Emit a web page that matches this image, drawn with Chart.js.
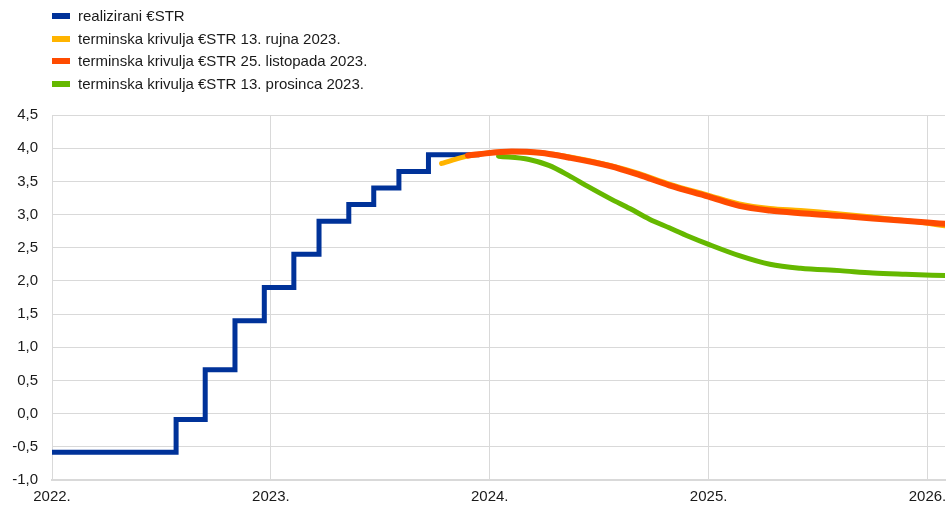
<!DOCTYPE html>
<html>
<head>
<meta charset="utf-8">
<script src="https://cdn.jsdelivr.net/npm/chart.js@4"></script>
<style>
  body { margin: 0; background: #fff; }
  #wrap { position: relative; width: 948px; height: 506px; }
  #legend { position: absolute; left: 52px; top: 5px; font: 15px "Liberation Sans", Arial, sans-serif; color: #1a1a1a; }
  #legend div { height: 22.7px; line-height: 22.7px; white-space: nowrap; }
  #legend span { display: inline-block; width: 18px; height: 6px; margin-right: 8px; vertical-align: middle; position: relative; top: -1px; }
</style>
</head>
<body>
<div id="wrap">
  <canvas id="chart" width="948" height="506"></canvas>
  <div id="legend"></div>
</div>
<script>
// x values are decimal years
const years = [2022, 2023, 2024, 2025, 2026];

const realizedX = [2022.0, 2022.567, 2022.70, 2022.836, 2022.97, 2023.105, 2023.22, 2023.356, 2023.47, 2023.585, 2023.72, 2023.95];
const realizedY = [-0.58, -0.09, 0.66, 1.40, 1.90, 2.40, 2.90, 3.15, 3.40, 3.65, 3.90, 3.90];

const sepX = [2023.78, 2023.83, 2023.90, 2024.0, 2024.12, 2024.23, 2024.36, 2024.55, 2024.68, 2024.82, 2025.0, 2025.14, 2025.28, 2025.42, 2025.6, 2025.75, 2026.0, 2026.08];
const sepY = [3.77, 3.82, 3.88, 3.93, 3.95, 3.93, 3.87, 3.74, 3.62, 3.46, 3.29, 3.16, 3.09, 3.06, 3.01, 2.96, 2.87, 2.83];

const octX = [2023.90, 2023.95, 2024.10, 2024.23, 2024.36, 2024.55, 2024.68, 2024.82, 2025.0, 2025.14, 2025.28, 2025.42, 2025.6, 2025.75, 2026.0, 2026.08];
const octY = [3.89, 3.91, 3.95, 3.93, 3.86, 3.73, 3.60, 3.44, 3.27, 3.13, 3.06, 3.02, 2.98, 2.94, 2.88, 2.86];

const decX = [2024.04, 2024.18, 2024.27, 2024.36, 2024.45, 2024.55, 2024.64, 2024.73, 2024.82, 2024.91, 2025.0, 2025.14, 2025.28, 2025.42, 2025.6, 2025.75, 2025.9, 2026.08];
const decY = [3.88, 3.83, 3.74, 3.59, 3.42, 3.24, 3.09, 2.93, 2.80, 2.67, 2.55, 2.38, 2.25, 2.19, 2.155, 2.12, 2.10, 2.08];

const labels = ["realizirani €STR", "terminska krivulja €STR 13. rujna 2023.", "terminska krivulja €STR 25. listopada 2023.", "terminska krivulja €STR 13. prosinca 2023."];
const colors = ["#003299", "#ffb400", "#ff4b00", "#65b800"];

const pts = (xs, ys) => xs.map((x, i) => ({ x: x, y: ys[i] }));

const legend = document.getElementById("legend");
labels.forEach((l, i) => {
  const d = document.createElement("div");
  d.innerHTML = '<span style="background:' + colors[i] + '"></span>' + l;
  legend.appendChild(d);
});

const fontSpec = { family: "'Liberation Sans', Arial, sans-serif", size: 15 };

new Chart(document.getElementById("chart"), {
  type: "line",
  data: {
    datasets: [
      { label: labels[0], data: pts(realizedX, realizedY), borderColor: colors[0], borderWidth: 5, stepped: true, order: 3 },
      { label: labels[1], data: pts(sepX, sepY), borderColor: colors[1], borderWidth: 5, cubicInterpolationMode: "monotone", order: 2 },
      { label: labels[2], data: pts(octX, octY), borderColor: colors[2], borderWidth: 6, cubicInterpolationMode: "monotone", order: 0 },
      { label: labels[3], data: pts(decX, decY), borderColor: colors[3], borderWidth: 5, cubicInterpolationMode: "monotone", order: 1 }
    ]
  },
  options: {
    responsive: false,
    animation: false,
    devicePixelRatio: 1,
    layout: { padding: { top: 115, right: 3, left: 0, bottom: 0 } },
    elements: {
      point: { radius: 0 },
      line: { borderCapStyle: "round", fill: false }
    },
    plugins: { legend: { display: false }, tooltip: { enabled: false } },
    scales: {
      x: {
        type: "linear",
        min: 2022,
        max: 2026.08,
        afterBuildTicks: (s) => { s.ticks = years.map(v => ({ value: v })); },
        afterFit: (s) => { s.height = 26; s.paddingLeft = 0; s.paddingRight = 0; },
        grid: { color: "#d9d9d9", drawTicks: false },
        border: { color: "#d9d9d9", width: 2 },
        ticks: { font: fontSpec, color: "#1a1a1a", padding: 8, maxRotation: 0, callback: (v) => v + "." }
      },
      y: {
        min: -1,
        max: 4.5,
        afterFit: (s) => { s.width = 52; },
        grid: { color: "#d9d9d9", drawTicks: false },
        border: { color: "#d9d9d9" },
        ticks: { font: fontSpec, color: "#1a1a1a", padding: 14, stepSize: 0.5, callback: (v) => v.toFixed(1).replace(".", ",") }
      }
    }
  }
});
</script>
</body>
</html>
